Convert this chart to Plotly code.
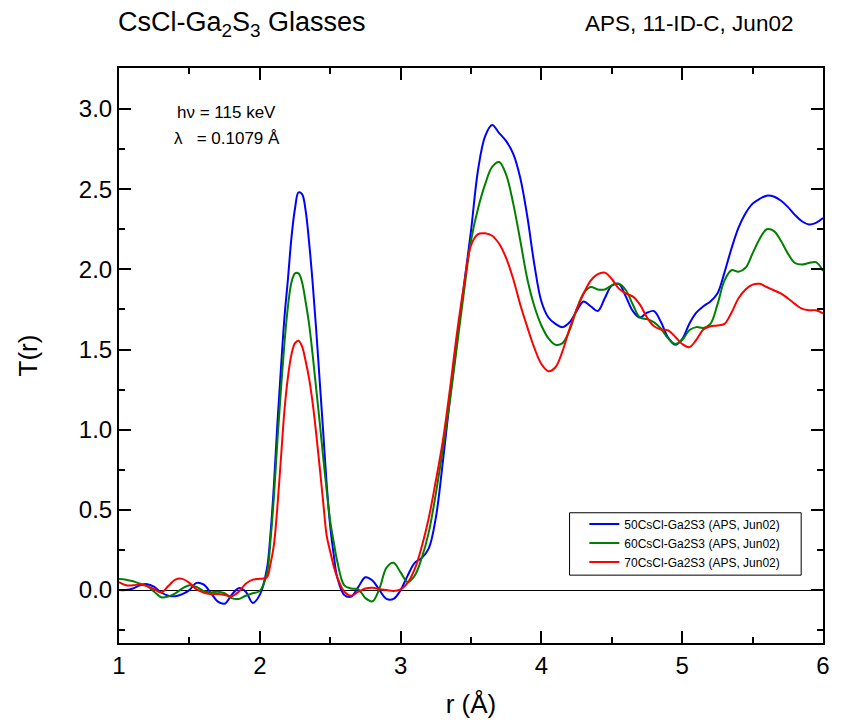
import plotly.graph_objects as go

r = [1.00, 1.05, 1.10, 1.15, 1.20, 1.25, 1.30, 1.35, 1.40, 1.45,
     1.50, 1.55, 1.60, 1.65, 1.70, 1.75, 1.80, 1.85, 1.90, 1.95,
     2.00,
     2.05, 2.075, 2.10, 2.125, 2.15, 2.175, 2.20, 2.225, 2.25, 2.275,
     2.30, 2.325, 2.35, 2.375, 2.40, 2.425, 2.45, 2.475, 2.50, 2.525,
     2.55,
     2.60, 2.65, 2.70, 2.75, 2.80, 2.85, 2.90, 2.95,
     3.00, 3.05, 3.10, 3.15, 3.20, 3.25, 3.30, 3.35, 3.40, 3.45,
     3.50, 3.55, 3.60, 3.65, 3.70, 3.75, 3.80, 3.85, 3.90, 3.95,
     4.00, 4.05, 4.10, 4.15, 4.20, 4.25, 4.30, 4.35, 4.40, 4.45,
     4.50, 4.55, 4.60, 4.65, 4.70, 4.75, 4.80, 4.85, 4.90, 4.95,
     5.00, 5.05, 5.10, 5.15, 5.20, 5.25, 5.30, 5.35, 5.40, 5.45,
     5.50, 5.55, 5.60, 5.65, 5.70, 5.75, 5.80, 5.85, 5.90, 5.95,
     6.00]

t_50 = [0.000, 0.000, 0.010, 0.030, 0.037, 0.020, -0.015, -0.035, -0.038, -0.025,
        0.000, 0.045, 0.035, -0.015, -0.070, -0.085, -0.030, 0.012, -0.010, -0.080,
        -0.030,
        0.13, 0.34, 0.65, 1.04, 1.38, 1.70, 1.94, 2.20, 2.38, 2.48,
        2.47, 2.37, 2.17, 1.92, 1.63, 1.31, 0.99, 0.66, 0.40, 0.22,
        0.08,
        -0.030, -0.040, 0.020, 0.080, 0.060, 0.000, -0.055, -0.055,
        0.000, 0.090, 0.170, 0.200, 0.260, 0.450, 0.800, 1.190, 1.550, 1.900,
        2.240, 2.620, 2.830, 2.900, 2.850, 2.800, 2.720, 2.570, 2.330, 2.030,
        1.800, 1.700, 1.660, 1.640, 1.670, 1.740, 1.800, 1.770, 1.740, 1.820,
        1.900, 1.910, 1.830, 1.740, 1.700, 1.730, 1.740, 1.670, 1.575, 1.530,
        1.565, 1.660, 1.730, 1.770, 1.800, 1.850, 1.980, 2.130, 2.260, 2.350,
        2.410, 2.440, 2.460, 2.455, 2.430, 2.390, 2.340, 2.300, 2.280, 2.290,
        2.320]

t_60 = [0.069, 0.065, 0.055, 0.040, 0.025, -0.010, -0.045, -0.040, -0.020, 0.010,
        0.030, 0.020, -0.005, -0.015, -0.010, -0.020, -0.050, -0.055, -0.035, -0.020,
        -0.005,
        0.10, 0.30, 0.58, 0.93, 1.25, 1.54, 1.77, 1.92, 1.975, 1.975,
        1.92, 1.80, 1.66, 1.47, 1.26, 1.05, 0.83, 0.62, 0.43, 0.30,
        0.18,
        0.030, 0.010, 0.005, -0.050, -0.070, 0.010, 0.140, 0.170,
        0.110, 0.050, 0.090, 0.200, 0.360, 0.600, 0.880, 1.180, 1.520, 1.860,
        2.180, 2.380, 2.530, 2.640, 2.670, 2.590, 2.410, 2.180, 1.940, 1.770,
        1.650, 1.570, 1.530, 1.540, 1.620, 1.750, 1.850, 1.890, 1.875, 1.875,
        1.900, 1.910, 1.870, 1.780, 1.700, 1.690, 1.670, 1.630, 1.570, 1.535,
        1.560, 1.620, 1.640, 1.635, 1.660, 1.780, 1.930, 1.995, 1.985, 2.010,
        2.100, 2.190, 2.250, 2.240, 2.180, 2.100, 2.040, 2.030, 2.040, 2.045,
        1.990]

t_70 = [0.050, 0.030, 0.030, 0.035, 0.025, 0.005, -0.015, 0.025, 0.065, 0.070,
        0.045, 0.005, -0.015, -0.025, -0.025, -0.030, -0.038, -0.010, 0.040, 0.065,
        0.070,
        0.08, 0.16, 0.28, 0.52, 0.82, 1.12, 1.33, 1.47, 1.54, 1.555,
        1.52, 1.43, 1.32, 1.17, 0.98, 0.77, 0.55, 0.34, 0.24, 0.15,
        0.08,
        -0.010, -0.035, -0.010, 0.010, 0.015, 0.005, 0.000, -0.005,
        0.005, 0.045, 0.130, 0.270, 0.450, 0.680, 0.930, 1.250, 1.600, 1.900,
        2.150, 2.220, 2.225, 2.210, 2.160, 2.070, 1.940, 1.780, 1.640, 1.510,
        1.410, 1.365, 1.390, 1.490, 1.630, 1.750, 1.850, 1.930, 1.970, 1.980,
        1.940, 1.880, 1.850, 1.830, 1.780, 1.700, 1.645, 1.625, 1.620, 1.580,
        1.535, 1.515, 1.560, 1.625, 1.645, 1.650, 1.660, 1.730, 1.820, 1.875,
        1.905, 1.910, 1.890, 1.870, 1.850, 1.820, 1.785, 1.755, 1.745, 1.745,
        1.725]

names = ["50CsCl-Ga2S3 (APS, Jun02)", "60CsCl-Ga2S3 (APS, Jun02)", "70CsCl-Ga2S3 (APS, Jun02)"]
colors = ["#0000ff", "#008000", "#ff0000"]
series = [t_50, t_60, t_70]

x_ticks = [1, 2, 3, 4, 5, 6]
y_ticks = [0.0, 0.5, 1.0, 1.5, 2.0, 2.5, 3.0]

FONT = "Liberation Sans, Arial, sans-serif"

fig = go.Figure()
for name, col, ys in zip(names, colors, series):
    fig.add_trace(go.Scatter(x=r, y=ys, mode="lines", name=name,
                             line=dict(color=col, width=2, shape="spline", smoothing=1.0)))

# page body has an 8px margin: keep the figure inside the 844x728 window
fig.update_layout(
    width=828, height=712,
    margin=dict(l=111, r=6, t=60, b=64),
    paper_bgcolor="white", plot_bgcolor="white",
    showlegend=True,
    legend=dict(x=0.661, y=0.174, xanchor="left", yanchor="middle",
                borderwidth=0, bgcolor="rgba(0,0,0,0)",
                font=dict(family=FONT, size=12, color="black"),
                tracegroupgap=0, itemwidth=30),
    font=dict(family=FONT, color="black"),
)

# legend frame
fig.add_shape(type="rect", xref="paper", yref="paper",
              x0=0.64, x1=0.969, y0=0.118, y1=0.2265,
              line=dict(color="black", width=1), fillcolor="rgba(0,0,0,0)", layer="above")

fig.update_xaxes(range=[1, 6], tickvals=x_ticks, ticktext=[str(v) for v in x_ticks],
                 ticks="inside", ticklen=12, tickwidth=2, tickcolor="black",
                 showline=True, linecolor="black", linewidth=2, mirror="allticks",
                 showgrid=False, zeroline=False,
                 tickfont=dict(family=FONT, size=24, color="black"),
                 minor=dict(ticks="inside", ticklen=6, tickwidth=2, tickcolor="black", dtick=0.5, showgrid=False),
                 title=dict(text="r (Å)", font=dict(family=FONT, size=26, color="black"), standoff=17))

fig.update_yaxes(range=[-0.33, 3.256], tickvals=y_ticks, ticktext=["%.1f" % v for v in y_ticks],
                 ticks="inside", ticklen=12, tickwidth=2, tickcolor="black",
                 showline=True, linecolor="black", linewidth=2, mirror="allticks",
                 showgrid=False, zeroline=True, zerolinecolor="black", zerolinewidth=1,
                 tickfont=dict(family=FONT, size=24, color="black"),
                 minor=dict(ticks="inside", ticklen=6, tickwidth=2, tickcolor="black", dtick=0.25, showgrid=False),
                 title=dict(text="T(r)", font=dict(family=FONT, size=26, color="black"), standoff=34))

fig.add_annotation(text="CsCl-Ga<sub>2</sub>S<sub>3</sub> Glasses", xref="paper", yref="paper",
                   x=0, y=1, xshift=-3, yshift=44, xanchor="left", yanchor="middle", showarrow=False,
                   font=dict(family=FONT, size=27, color="black"))
fig.add_annotation(text="APS, 11-ID-C, Jun02", xref="paper", yref="paper",
                   x=0.9606, y=1, yshift=45, xanchor="right", yanchor="middle", showarrow=False,
                   font=dict(family=FONT, size=22.5, color="black"))
fig.add_annotation(text="hν = 115 keV", xref="paper", yref="paper",
                   x=0.079, y=0.923, xanchor="left", yanchor="middle", showarrow=False,
                   font=dict(family=FONT, size=17, color="black"))
fig.add_annotation(text="λ&nbsp;&nbsp;&nbsp;= 0.1079 Å", xref="paper", yref="paper",
                   x=0.075, y=0.878, xanchor="left", yanchor="middle", showarrow=False,
                   font=dict(family=FONT, size=17, color="black"))

fig.write_html("out.html")
